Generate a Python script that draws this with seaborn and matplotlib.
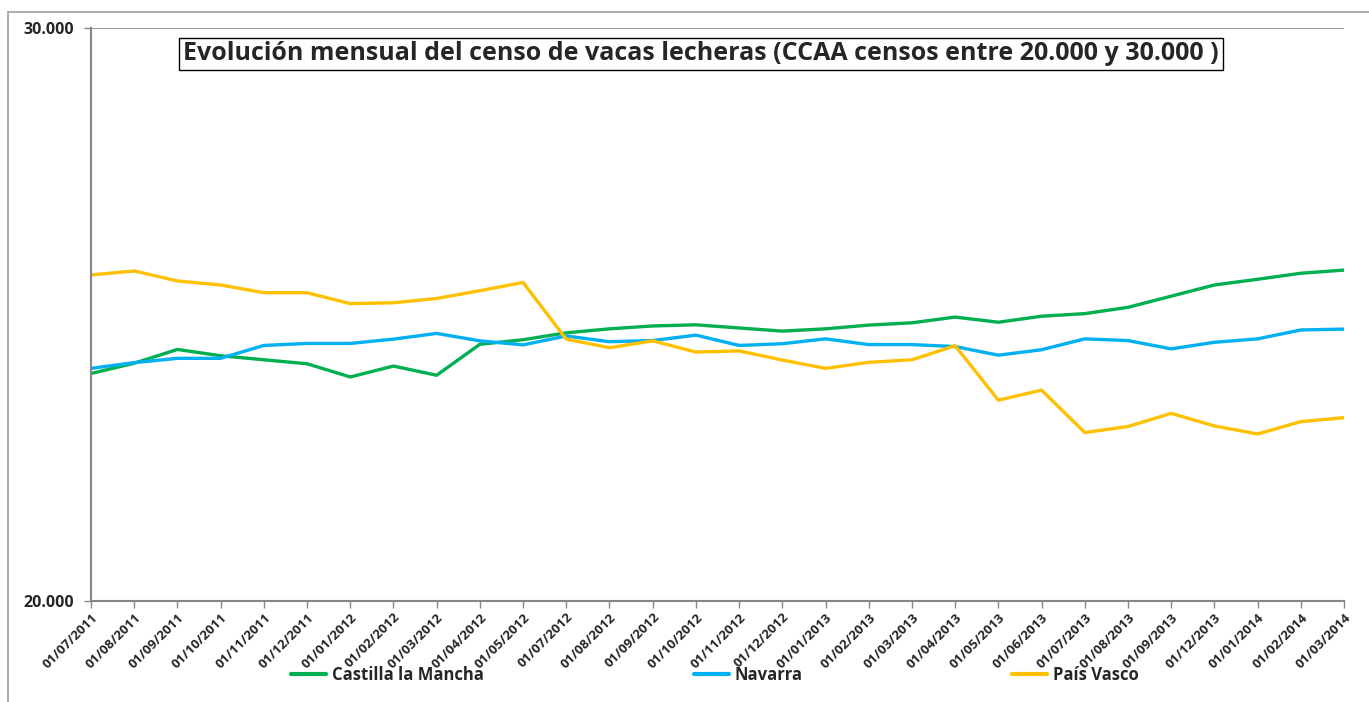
import matplotlib
matplotlib.use("Agg")
import matplotlib.pyplot as plt
import matplotlib.ticker as mticker
from matplotlib.lines import Line2D
import numpy as np
import pandas as pd
import seaborn as sns

# categories (monthly census dates)
fechas = ["01/07/2011", "01/08/2011", "01/09/2011", "01/10/2011", "01/11/2011", "01/12/2011",
          "01/01/2012", "01/02/2012", "01/03/2012", "01/04/2012", "01/05/2012", "01/07/2012",
          "01/08/2012", "01/09/2012", "01/10/2012", "01/11/2012", "01/12/2012", "01/01/2013",
          "01/02/2013", "01/03/2013", "01/04/2013", "01/05/2013", "01/06/2013", "01/07/2013",
          "01/08/2013", "01/09/2013", "01/12/2013", "01/01/2014", "01/02/2014", "01/03/2014"]

castilla = [23970, 24150, 24390, 24280, 24210, 24140, 23910, 24100, 23940, 24480,
            24560, 24680, 24750, 24800, 24820, 24765, 24710, 24750, 24815, 24855,
            24955, 24865, 24970, 25015, 25125, 25320, 25515, 25615, 25720, 25775]
navarra = [24060, 24160, 24235, 24235, 24460, 24495, 24495, 24570, 24670, 24540,
           24470, 24625, 24525, 24545, 24640, 24460, 24490, 24575, 24475, 24475,
           24440, 24290, 24385, 24575, 24545, 24400, 24515, 24575, 24730, 24745]
pais_vasco = [25690, 25760, 25585, 25515, 25380, 25380, 25190, 25205, 25280, 25415,
              25560, 24570, 24420, 24540, 24345, 24365, 24205, 24060, 24165, 24210,
              24455, 23505, 23680, 22940, 23045, 23275, 23055, 22915, 23130, 23200]

series_names = ["Castilla la Mancha", "Navarra", "País Vasco"]
colores = ["#00B050", "#00B0F0", "#FFC000"]
titulo = "Evolución mensual del censo de vacas lecheras (CCAA censos entre 20.000 y 30.000 )"

df = pd.DataFrame({
    "fecha": fechas * 3,
    "censo": castilla + navarra + pais_vasco,
    "ccaa": [series_names[0]] * len(fechas) + [series_names[1]] * len(fechas) + [series_names[2]] * len(fechas),
})

sns.set_style("white")
plt.rcParams["font.family"] = ["Open Sans", "DejaVu Sans"]

fig = plt.figure(figsize=(13.69, 7.02), dpi=100)
ax = fig.add_axes([91 / 1369, 1 - 601 / 702, (1344 - 91) / 1369, (601 - 28) / 702])

sns.lineplot(data=df, x="fecha", y="censo", hue="ccaa", palette=colores,
             linewidth=2.4, ax=ax, sort=False)

ax.set_ylim(20000, 30000)
ax.set_xlim(0, len(fechas) - 1)
ax.set_yticks([20000, 30000])
ax.yaxis.set_major_formatter(mticker.FuncFormatter(lambda v, p: f"{int(v):,}".replace(",", ".")))
ax.set_xticks(range(len(fechas)))
ax.set_xticklabels(fechas, rotation=45, ha="right", rotation_mode="anchor",
                   fontsize=9.5, fontweight="bold")
for lab in ax.get_yticklabels():
    lab.set_fontweight("bold")
    lab.set_fontsize(11.5)
ax.set_xlabel("")
ax.set_ylabel("")

for s in ["top", "right"]:
    ax.spines[s].set_visible(False)
for s in ["left", "bottom"]:
    ax.spines[s].set_color("#868686")
    ax.spines[s].set_linewidth(1.5)
ax.axhline(30000, color="#868686", linewidth=1.2)
ax.tick_params(axis="both", direction="out", length=5, width=1, color="#868686",
               bottom=True, left=True, pad=2)
ax.tick_params(axis="y", pad=7)

ax.get_legend().remove()
handles = [Line2D([0], [0], color=c, linewidth=3) for c in colores]
fig.legend(handles, series_names, loc="center", ncol=3,
           bbox_to_anchor=(715 / 1369, 1 - 675 / 702), frameon=False,
           prop={"weight": "bold", "size": 12}, handlelength=2.1,
           handletextpad=0.35, columnspacing=12.6)

fig.text(701 / 1369, 1 - 54 / 702, titulo, ha="center", va="center",
         fontsize=18, fontweight="bold",
         bbox=dict(boxstyle="square,pad=0.15", facecolor="white", edgecolor="black", linewidth=1))

# outer chart frame (only top and left edges visible)
fig.add_artist(Line2D([8 / 1369, 1.0], [1 - 12 / 702, 1 - 12 / 702], color="#A0A0A0", linewidth=1.2))
fig.add_artist(Line2D([8 / 1369, 8 / 1369], [1 - 12 / 702, 0.0], color="#A0A0A0", linewidth=1.2))

fig.savefig("out.png", dpi=100)
